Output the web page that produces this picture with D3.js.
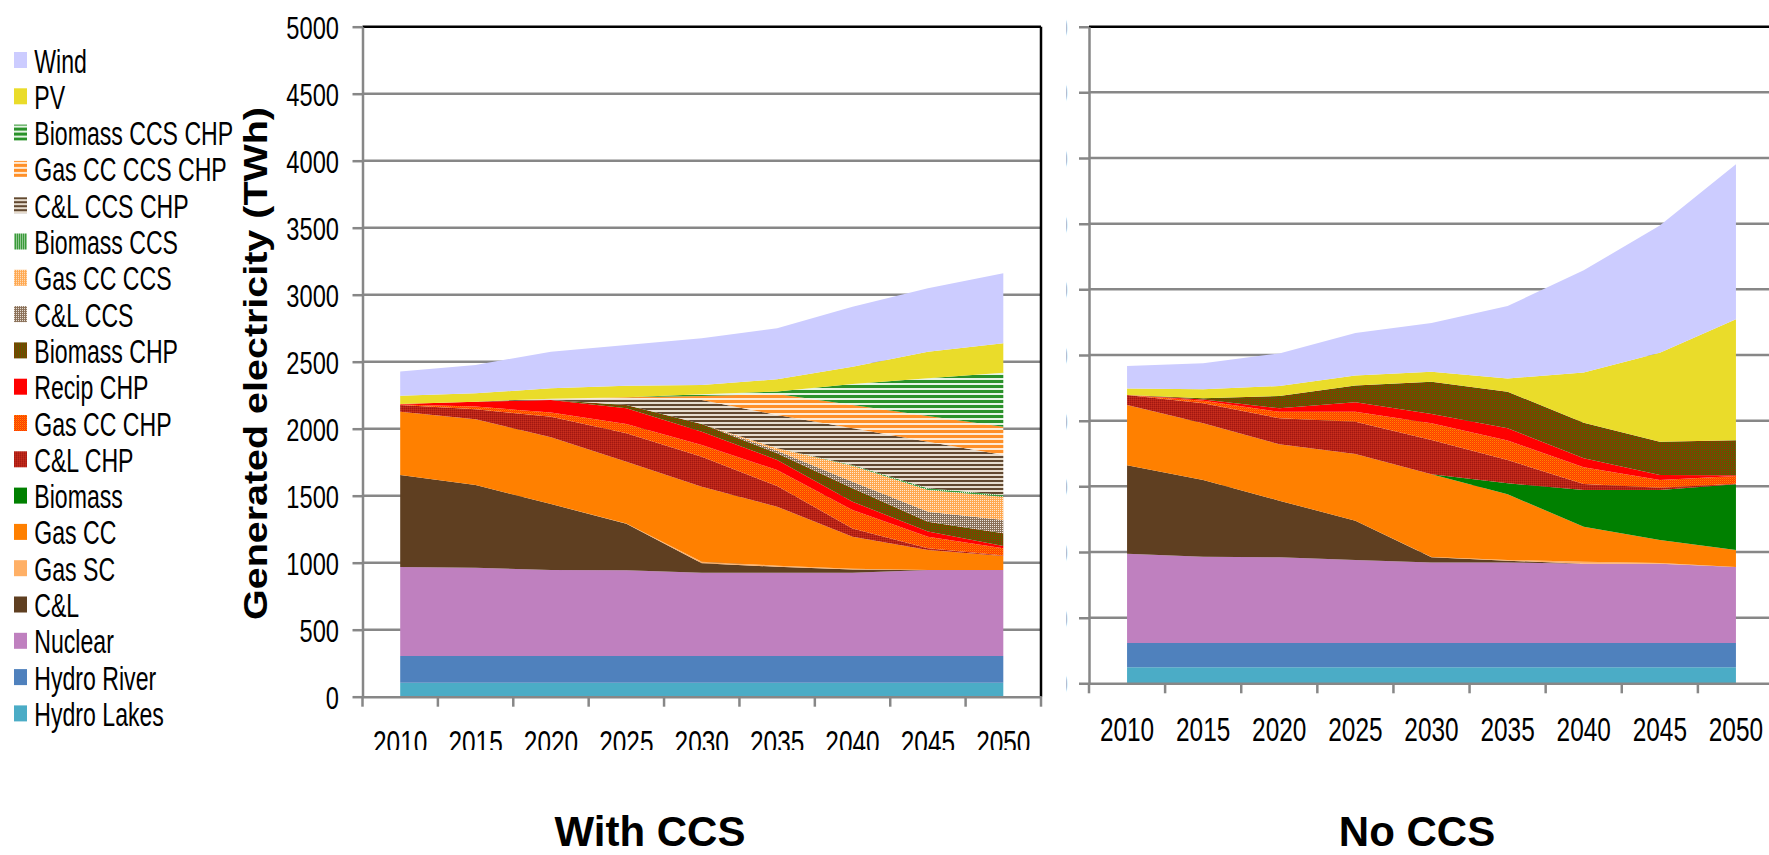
<!DOCTYPE html>
<html>
<head>
<meta charset="utf-8">
<script src="https://cdn.jsdelivr.net/npm/d3@7"></script>
<style>
  html, body { margin: 0; padding: 0; background: #fff; }
  svg { display: block; font-family: "Liberation Sans", Arial, sans-serif; }
</style>
</head>
<body>
<svg id="chart" width="1769" height="855"></svg>
<script>
// ---- data (TWh) ----
const years = [2010, 2015, 2020, 2025, 2030, 2035, 2040, 2045, 2050];
const techs = ["Hydro Lakes", "Hydro River", "Nuclear", "C&L", "Gas SC", "Gas CC", "Biomass",
  "C&L CHP", "Gas CC CHP", "Recip CHP", "Biomass CHP", "C&L CCS", "Gas CC CCS", "Biomass CCS",
  "C&L CCS CHP", "Gas CC CCS CHP", "Biomass CCS CHP", "PV", "Wind"];
const yTicks = [0, 500, 1000, 1500, 2000, 2500, 3000, 3500, 4000, 4500, 5000];
const panelTitles = ["With CCS", "No CCS"];
const axisTitle = "Generated electricity (TWh)";

// scenario: with CCS
const ccsHydroLakes  = [105, 105, 105, 105, 105, 105, 105, 105, 105];
const ccsHydroRiver  = [198, 198, 198, 198, 198, 198, 198, 198, 198];
const ccsNuclear     = [665, 660, 642, 640, 622, 622, 622, 642, 642];
const ccsCoal        = [686, 617, 493, 347, 70, 45, 25, 0, 0];
const ccsGasSC       = [0, 0, 0, 3, 12, 8, 4, 0, 0];
const ccsGasCC       = [473, 490, 498, 461, 560, 440, 240, 150, 105];
const ccsBiomass     = [0, 0, 0, 0, 0, 0, 0, 0, 0];
const ccsCoalChp     = [50, 75, 154, 212, 224, 154, 62, 12, 3];
const ccsGasChp      = [3, 20, 30, 69, 87, 120, 137, 87, 55];
const ccsRecipChp    = [5, 37, 94, 117, 100, 74, 62, 38, 17];
const ccsBioChp      = [0, 0, 0, 25, 57, 50, 100, 74, 94];
const ccsCoalCcs     = [0, 0, 0, 0, 0, 20, 50, 75, 100];
const ccsGasCcs      = [0, 0, 0, 0, 0, 18, 119, 162, 174];
const ccsBioCcs      = [0, 0, 0, 0, 0, 0, 5, 12, 12];
const ccsCoalCcsChp  = [0, 0, 10, 50, 179, 248, 274, 348, 299];
const ccsGasCcsChp   = [0, 0, 0, 7, 30, 157, 174, 192, 211];
const ccsBioCcsChp   = [0, 0, 0, 0, 13, 18, 157, 281, 403];
const ccsPV          = [60, 62, 77, 87, 69, 92, 129, 199, 219];
const ccsWind        = [181, 212, 274, 304, 349, 380, 448, 473, 523];

// scenario: no CCS
const noHydroLakes   = [122, 122, 122, 122, 122, 122, 122, 122, 122];
const noHydroRiver   = [185, 185, 185, 185, 185, 185, 185, 185, 185];
const noNuclear      = [680, 657, 652, 632, 612, 612, 604, 604, 579];
const noCoal         = [673, 584, 432, 299, 40, 15, 0, 0, 0];
const noGasSC        = [0, 0, 0, 0, 3, 5, 15, 5, 0];
const noGasCC        = [459, 432, 429, 508, 629, 500, 267, 175, 129];
const noBiomass      = [0, 0, 0, 0, 0, 84, 279, 381, 500];
const noCoalChp      = [76, 152, 198, 246, 262, 177, 46, 18, 5];
const noGasChp       = [0, 20, 50, 76, 127, 148, 127, 58, 58];
const noRecipChp     = [0, 10, 26, 72, 71, 94, 68, 38, 6];
const noBioChp       = [0, 8, 94, 128, 246, 279, 272, 254, 266];
const noCoalCcs      = [0, 0, 0, 0, 0, 0, 0, 0, 0];
const noGasCcs       = [0, 0, 0, 0, 0, 0, 0, 0, 0];
const noBioCcs       = [0, 0, 0, 0, 0, 0, 0, 0, 0];
const noCoalCcsChp   = [0, 0, 0, 0, 0, 0, 0, 0, 0];
const noGasCcsChp    = [0, 0, 0, 0, 0, 0, 0, 0, 0];
const noBioCcsChp    = [0, 0, 0, 0, 0, 0, 0, 0, 0];
const noPV           = [50, 70, 76, 76, 76, 101, 381, 677, 923];
const noWind         = [172, 197, 248, 324, 371, 551, 779, 969, 1179];

const ccsSeries = [ccsHydroLakes, ccsHydroRiver, ccsNuclear, ccsCoal, ccsGasSC, ccsGasCC, ccsBiomass,
  ccsCoalChp, ccsGasChp, ccsRecipChp, ccsBioChp, ccsCoalCcs, ccsGasCcs, ccsBioCcs,
  ccsCoalCcsChp, ccsGasCcsChp, ccsBioCcsChp, ccsPV, ccsWind];
const noSeries = [noHydroLakes, noHydroRiver, noNuclear, noCoal, noGasSC, noGasCC, noBiomass,
  noCoalChp, noGasChp, noRecipChp, noBioChp, noCoalCcs, noGasCcs, noBioCcs,
  noCoalCcsChp, noGasCcsChp, noBioCcsChp, noPV, noWind];

// ---- styling ----
const svg = d3.select("#chart");
const defs = svg.append("defs");

function pattern(id, w, h, bg, cells) {
  const p = defs.append("pattern").attr("id", id).attr("patternUnits", "userSpaceOnUse")
    .attr("width", w).attr("height", h);
  p.append("rect").attr("width", w).attr("height", h).attr("fill", bg);
  cells.forEach(c => p.append("rect").attr("x", c[0]).attr("y", c[1]).attr("width", c[2])
    .attr("height", c[3]).attr("fill", c[4]).attr("shape-rendering", "crispEdges"));
  return `url(#${id})`;
}

const fills = {
  "Hydro Lakes": "#4BACC6",
  "Hydro River": "#4F81BD",
  "Nuclear": "#BF80BF",
  "C&L": "#5F3F21",
  "Gas SC": "#FFB066",
  "Gas CC": "#FF8000",
  "Biomass": "#008000",
  "C&L CHP": pattern("pCoalChp", 2, 2, "#B82218", [[0, 0, 1, 1, "#A01810"], [1, 1, 1, 1, "#C8301C"]]),
  "Gas CC CHP": pattern("pGasChp", 2, 2, "#FF3A00", [[0, 0, 1, 1, "#FF8A00"], [1, 1, 1, 1, "#FF6000"]]),
  "Recip CHP": "#FF0000",
  "Biomass CHP": pattern("pBioChp", 2, 2, "#7F4000", [[1, 0, 1, 1, "#3C7400"]]),
  "C&L CCS": pattern("pCoalCcs", 2, 2, "#8A7058", [[0, 0, 1, 1, "#EEE8E0"]]),
  "Gas CC CCS": pattern("pGasCcs", 2, 2, "#FFA850", [[0, 0, 1, 1, "#FFE8D0"]]),
  "Biomass CCS": pattern("pBioCcs", 2, 2, "#3A9A3A", [[0, 0, 1, 1, "#E8F6E8"]]),
  "C&L CCS CHP": pattern("pCoalCcsChp", 4, 4, "#E6DCCE", [[0, 0, 4, 2, "#614830"]]),
  "Gas CC CCS CHP": pattern("pGasCcsChp", 4, 5, "#FFEAD4", [[0, 0, 4, 2.5, "#FF9028"]]),
  "Biomass CCS CHP": pattern("pBioCcsChp", 4, 5, "#E6F4E6", [[0, 0, 4, 2.5, "#2A922A"]]),
  "PV": "#EADC2A",
  "Wind": "#CCCCFF"
};

const axisGrey = "#878787";
const sx = 0.74;          // horizontal squeeze of the narrow label type

// ---- panels ----
const panels = [
  { series: ccsSeries, x0: 362.5, x1: 1041, yBase: 696.7, labelBase: 754, clipLabels: 750,
    showLabels: true, title: panelTitles[0], titleX: 650, rightBorder: true },
  { series: noSeries, x0: 1089, x1: 1774, yBase: 683.3, labelBase: 740.7, clipLabels: null,
    showLabels: false, title: panelTitles[1], titleX: 1417, rightBorder: false }
];
const yTop = 26.7;

panels.forEach((pn, pi) => {
  const xb = d3.scaleBand().domain(years).range([pn.x0, pn.x1]).padding(0);
  const y = d3.scaleLinear().domain([0, 5000]).range([pn.yBase, yTop]);

  const rows = years.map((yr, i) => {
    const r = { year: yr };
    techs.forEach((t, k) => { r[t] = pn.series[k][i]; });
    return r;
  });
  const stacked = d3.stack().keys(techs)(rows);

  const g = svg.append("g").attr("class", "panel-" + pi);

  // gridlines
  g.append("g").selectAll("line").data(yTicks.filter(v => v > 0 && v < 5000)).join("line")
    .attr("x1", pn.x0).attr("x2", pn.x1)
    .attr("y1", d => y(d)).attr("y2", d => y(d))
    .attr("stroke", axisGrey).attr("stroke-width", 2.5);

  // stacked areas
  const area = d3.area()
    .x(d => xb(d.data.year) + xb.bandwidth() / 2)
    .y0(d => y(d[0]))
    .y1(d => y(d[1]));
  g.append("g").selectAll("path").data(stacked).join("path")
    .attr("d", area)
    .attr("fill", d => fills[d.key]);

  // plot frame (top + right)
  g.append("line").attr("x1", pn.x0).attr("x2", pn.x1).attr("y1", yTop).attr("y2", yTop)
    .attr("stroke", "#000").attr("stroke-width", 2.5);
  if (pn.rightBorder) {
    g.append("line").attr("x1", pn.x1).attr("x2", pn.x1).attr("y1", yTop).attr("y2", pn.yBase)
      .attr("stroke", "#000").attr("stroke-width", 2.5);
  }

  // y axis (the second panel's labels sit behind the first panel and only their edges show)
  const gyWrap = g.append("g");
  if (!pn.showLabels) {
    defs.append("clipPath").attr("id", "yClip" + pi)
      .append("rect").attr("x", 1066.3).attr("y", 0).attr("width", 800).attr("height", 855);
    gyWrap.attr("clip-path", `url(#yClip${pi})`);
  }
  const gy = gyWrap.append("g").attr("transform", `translate(${pn.x0},0)`)
    .call(d3.axisLeft(y).tickValues(yTicks).tickSize(10).tickSizeOuter(0).tickFormat(d3.format("d")))
    .attr("font-size", null).attr("font-family", null);
  gy.selectAll("line").attr("stroke", axisGrey).attr("stroke-width", 2.5);
  gy.select(".domain").attr("stroke", axisGrey).attr("stroke-width", 2.5);
  const labelRight = pn.showLabels ? 339 : 1068;
  gy.selectAll("text")
    .attr("x", (labelRight - pn.x0) / sx)
    .attr("dy", "0.36em")
    .attr("transform", `scale(${sx},1)`)
    .attr("fill", pn.showLabels ? "#000" : "#9a9a9a")
    .style("font-size", "32px");

  // x axis: category labels centred in bands, ticks on band edges
  const gxWrap = g.append("g");
  if (pn.clipLabels) {
    defs.append("clipPath").attr("id", "xClip" + pi)
      .append("rect").attr("x", 0).attr("y", 0).attr("width", 1769).attr("height", pn.clipLabels);
    gxWrap.attr("clip-path", `url(#xClip${pi})`);
  }
  const gx = gxWrap.append("g").attr("transform", `translate(0,${pn.yBase})`)
    .call(d3.axisBottom(xb).tickSize(0).tickSizeOuter(0))
    .attr("font-size", null).attr("font-family", null);
  gx.select(".domain").attr("stroke", axisGrey).attr("stroke-width", 2.5);
  gx.selectAll("text")
    .attr("y", pn.labelBase - pn.yBase)
    .attr("dy", 0)
    .attr("transform", `scale(${sx},1)`)
    .attr("fill", "#000")
    .style("font-size", "33px");

  const edges = years.map(v => xb(v)).concat([pn.x1]);
  g.append("g").selectAll("line").data(edges).join("line")
    .attr("x1", d => d).attr("x2", d => d)
    .attr("y1", pn.yBase).attr("y2", pn.yBase + 10)
    .attr("stroke", axisGrey).attr("stroke-width", 2.5);

  // panel title
  g.append("text").attr("x", pn.titleX).attr("y", 846)
    .attr("text-anchor", "middle").attr("font-weight", "bold")
    .style("font-size", "42px").text(pn.title);
});

// y axis title
svg.append("text")
  .attr("transform", "translate(267,363.5) rotate(-90)")
  .attr("text-anchor", "middle")
  .attr("font-weight", "bold")
  .attr("textLength", 513)
  .attr("lengthAdjust", "spacingAndGlyphs")
  .style("font-size", "33px")
  .text(axisTitle);

// legend (top entry = top layer)
const legendItems = techs.slice().reverse();
const lg = svg.append("g").attr("class", "legend");
const item = lg.selectAll("g").data(legendItems).join("g")
  .attr("transform", (d, i) => `translate(0,${60 + i * 36.3})`);
item.append("rect").attr("x", 14).attr("y", -8).attr("width", 13).attr("height", 16)
  .attr("fill", d => fills[d]);
item.append("text")
  .attr("transform", `translate(34.3,12.5) scale(0.7,1)`)
  .style("font-size", "33px")
  .attr("fill", "#000")
  .text(d => d);
</script>
</body>
</html>
